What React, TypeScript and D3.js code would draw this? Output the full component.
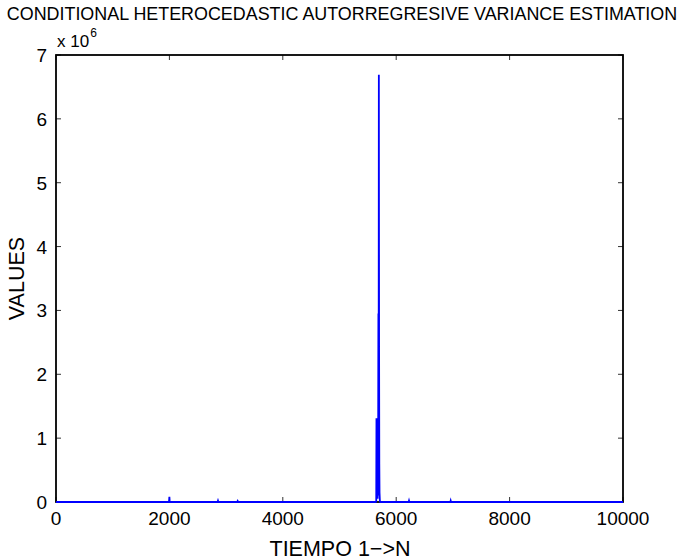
import React, { useEffect, useRef } from "react";
import * as d3 from "d3";

// series vertices (time index, variance) - mostly zero, with the big burst near t=5700
const tIndex = [
  0, 1990, 1996, 2000, 2004, 2010, 2850, 2857, 2864, 3196, 3204, 3212,
  5640, 5648, 5652, 5656, 5660, 5664, 5668, 5672, 5676, 5680, 5686, 5690,
  5694, 5698, 5702, 5706, 5712, 5720, 6220, 6226, 6232, 6955, 6961, 6967, 10000,
];
const variance = [
  0, 0, 30000, 80000, 25000, 0, 0, 20000, 0, 0, 15000, 0,
  0, 20000, 1310000, 400000, 1300000, 200000, 1280000, 50000, 900000, 100000, 2950000, 800000,
  6690000, 2430000, 600000, 150000, 20000, 0, 0, 20000, 0, 0, 20000, 0, 0,
];

const xTicks = [0, 2000, 4000, 6000, 8000, 10000];
const yTicks = [0, 1, 2, 3, 4, 5, 6, 7];

const title = "CONDITIONAL HETEROCEDASTIC AUTORREGRESIVE VARIANCE ESTIMATION";
const xLabel = "TIEMPO 1\u2212>N";
const yLabel = "VALUES";

const W = 686;
const H = 560;
const FONT = "'Liberation Sans', Arial, Helvetica, sans-serif";

export default function App() {
  const svgRef = useRef<SVGSVGElement>(null);

  useEffect(() => {
    const svg = d3.select(svgRef.current);
    svg.selectAll("*").remove();

    const left = 56, right = 623, top = 55, bottom = 502;

    const x = d3.scaleLinear().domain([0, 10000]).range([left, right]);
    const y = d3.scaleLinear().domain([0, 7e6]).range([bottom, top]);

    const g = svg.append("g").style("font-family", FONT);

    // ticks (inward, on all four sides)
    const tickColor = "#333";
    xTicks.forEach(t => {
      g.append("line").attr("x1", x(t)).attr("x2", x(t)).attr("y1", bottom).attr("y2", bottom - 5)
        .attr("stroke", tickColor).attr("stroke-width", 1);
      g.append("line").attr("x1", x(t)).attr("x2", x(t)).attr("y1", top).attr("y2", top + 5)
        .attr("stroke", tickColor).attr("stroke-width", 1);
      g.append("text")
        .attr("x", x(t))
        .attr("y", bottom + 23)
        .attr("text-anchor", "middle")
        .style("font-size", "19px")
        .text(t);
    });
    yTicks.forEach(t => {
      g.append("line").attr("x1", left).attr("x2", left + 5).attr("y1", y(t * 1e6)).attr("y2", y(t * 1e6))
        .attr("stroke", tickColor).attr("stroke-width", 1);
      g.append("line").attr("x1", right).attr("x2", right - 5).attr("y1", y(t * 1e6)).attr("y2", y(t * 1e6))
        .attr("stroke", tickColor).attr("stroke-width", 1);
      g.append("text")
        .attr("x", left - 9)
        .attr("y", y(t * 1e6) + 7)
        .attr("text-anchor", "end")
        .style("font-size", "19px")
        .text(t);
    });

    // exponent label
    const ex = g.append("text").attr("x", left + 1).attr("y", 47).style("font-size", "17px");
    ex.append("tspan").text("x 10");
    ex.append("tspan").attr("dy", -10).attr("dx", 1).style("font-size", "12px").text("6");

    // data line
    const line = d3.line<number>()
      .x((_, i) => x(tIndex[i]))
      .y(d => y(d));

    // box
    g.append("rect")
      .attr("x", left).attr("y", top)
      .attr("width", right - left).attr("height", bottom - top)
      .attr("fill", "none")
      .attr("stroke", "#000")
      .attr("stroke-width", 1.8);

    g.append("path")
      .datum(variance)
      .attr("d", line)
      .attr("fill", "none")
      .attr("stroke", "#0000ff")
      .attr("stroke-width", 1.8);

    // title + labels
    g.append("text")
      .attr("x", 342).attr("y", 20)
      .attr("text-anchor", "middle")
      .style("font-size", "17.9px")
      .text(title);

    g.append("text")
      .attr("x", 340).attr("y", 556)
      .attr("text-anchor", "middle")
      .style("font-size", "21.5px")
      .text(xLabel);

    g.append("text")
      .attr("transform", `translate(24, ${(top + bottom) / 2}) rotate(-90)`)
      .attr("text-anchor", "middle")
      .style("font-size", "21.5px")
      .text(yLabel);
  }, []);

  return (
    <svg
      ref={svgRef}
      width={W}
      height={H}
      style={{ position: "absolute", left: 0, top: 0, background: "#fff" }}
    />
  );
}
